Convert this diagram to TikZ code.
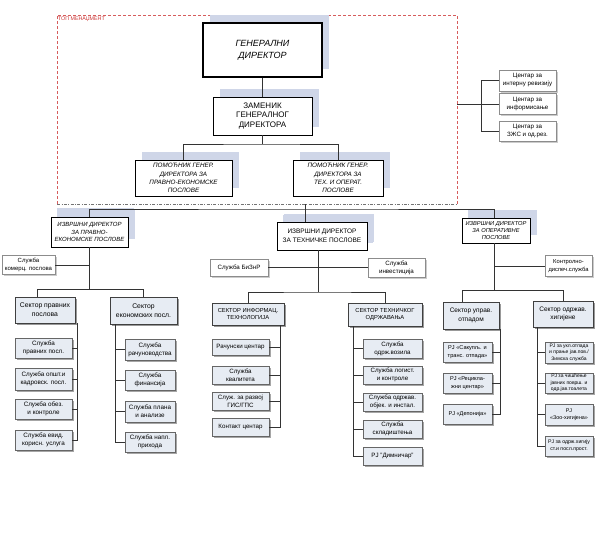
\documentclass[tikz,border=0pt]{standalone}
\usepackage{fontspec}
\setmainfont{Liberation Sans}
\usetikzlibrary{shadows}
\definecolor{shcol}{HTML}{CFD6E8}
\definecolor{boxfill}{HTML}{E7ECF3}
\definecolor{redd}{HTML}{CC3333}
\newcommand\fsz[2]{\fontsize{#1}{#2}\selectfont}
\begin{document}
\begin{tikzpicture}[x=1pt,y=-1pt,
  lnk/.style={draw=black!80, line width=0.6pt},
  wh/.style n args={2}{minimum width=#1, minimum height=#2},
  topbox/.style={draw=black, fill=white, line width=0.7pt, align=center, inner sep=0.5pt,
    general shadow={fill=shcol, shadow xshift=7pt, shadow yshift=8pt}},
  secbox/.style={draw=black!75, fill=boxfill, line width=0.6pt, align=center, inner sep=0.5pt,
    general shadow={fill=black!40, shadow xshift=1.5pt, shadow yshift=-1.5pt}},
  subbox/.style={draw=black!60, fill=boxfill, line width=0.5pt, align=center, inner sep=0.5pt,
    general shadow={fill=black!35, shadow xshift=1.5pt, shadow yshift=-1.5pt}},
  cbox/.style={draw=black!45, fill=white, line width=0.5pt, align=center, inner sep=0.5pt,
    general shadow={fill=black!20, shadow xshift=1.5pt, shadow yshift=-1.5pt}},
]
\fill[white] (0,0) rectangle (605,550);
\useasboundingbox (0,0) rectangle (605,550);

% top management frame
\draw[redd!80, dash pattern=on 3pt off 2pt, line width=0.6pt] (57,204) -- (57,15) -- (457,15) -- (457,204);
\draw[black!55, dash pattern=on 3pt off 1.5pt on 0.8pt off 1.5pt, line width=0.6pt] (57,204) -- (457,204);
\node[anchor=west, text=redd, inner sep=0, fill=white, font=\fsz{5.3}{6}] (topm) at (58,19) {ТОП МЕНАЏМЕНТ};

% top boxes
\node[topbox, line width=1.4pt, wh={119pt}{54pt}, font=\itshape\fsz{9}{12}] (gd) at (262.5,50) {ГЕНЕРАЛНИ\\ДИРЕКТОР};
\node[topbox, wh={99pt}{38pt}, font=\fsz{8}{9.5}] (zam) at (262.5,116) {ЗАМЕНИК\\ГЕНЕРАЛНОГ\\ДИРЕКТОРА};
\node[topbox, wh={97pt}{36pt}, font=\itshape\fsz{6.3}{8.2}] (pomL) at (183.5,178) {ПОМОЋНИК ГЕНЕР.\\ДИРЕКТОРА ЗА\\ПРАВНО-ЕКОНОМСКЕ\\ПОСЛОВЕ};
\node[topbox, wh={90pt}{36pt}, font=\itshape\fsz{6.3}{8.2}] (pomR) at (338,178) {ПОМОЋНИК ГЕНЕР.\\ДИРЕКТОРА ЗА\\ТЕХ. И ОПЕРАТ.\\ПОСЛОВЕ};
\coordinate (bar1) at (262.5,144);
\draw[lnk] (gd.south) -- (zam.north);
\draw[lnk] (zam.south) -- (bar1);
\draw[lnk] (pomL.north) |- (bar1) -| (pomR.north);

% centres on the right
\node[cbox, wh={57pt}{21pt}, font=\fsz{6.2}{8}] (c1) at (527.5,80.5) {Центар за\\интерну ревизију};
\node[cbox, wh={57pt}{21pt}, font=\fsz{6.2}{8}] (c2) at (527.5,104) {Центар за\\информисање};
\node[cbox, wh={57pt}{20pt}, font=\fsz{6.2}{8}] (c3) at (527.5,131) {Центар за\\ЗЖС и од.рез.};
\coordinate (cr) at (457,104);
\draw[lnk] (cr) -- (c2.west);
\draw[lnk] (c1.west) -- ++(-17,0) |- (c3.west);

% executive directors
\node[topbox, wh={77pt}{30pt}, font=\itshape\fsz{6}{7.8}, general shadow={fill=shcol, shadow xshift=6pt, shadow yshift=9pt}] (exL) at (89.5,232) {ИЗВРШНИ ДИРЕКТОР\\ЗА ПРАВНО-\\ЕКОНОМСКЕ ПОСЛОВЕ};
\node[topbox, wh={90pt}{28pt}, font=\fsz{6.5}{8.5}, general shadow={fill=shcol, shadow xshift=6pt, shadow yshift=7pt}] (exM) at (322,236) {ИЗВРШНИ ДИРЕКТОР\\ЗА ТЕХНИЧКЕ ПОСЛОВЕ};
\node[topbox, wh={68pt}{25pt}, font=\itshape\fsz{5.7}{7.4}, general shadow={fill=shcol, shadow xshift=6pt, shadow yshift=8pt}] (exR) at (496,230.5) {ИЗВРШНИ ДИРЕКТОР\\ЗА ОПЕРАТИВНЕ\\ПОСЛОВЕ};
\coordinate (tk) at (305,204);
\coordinate (tkb) at (305,209);
\coordinate (tkr) at (494,209);
\draw[lnk] (tk) -- (tk |- exM.north);
\draw[lnk] (exL.north) |- (tkb) -- (tkr);
\draw[lnk] (tkr) -- (tkr |- exR.north);

% ---------- left branch ----------
\node[cbox, wh={53pt}{19pt}, font=\fsz{6}{7.8}] (skom) at (28.5,265) {Служба\\комерц. послова};
\coordinate (lb) at (89.5,289);
\draw[lnk] (exL.south) -- (lb);
\draw[lnk] (skom.east) -- (skom.east -| lb);
\node[secbox, wh={60pt}{26pt}, font=\fsz{6.8}{8.8}] (secPr) at (45,310) {Сектор правних\\послова};
\node[secbox, wh={67pt}{27pt}, font=\fsz{6.8}{8.8}] (secEk) at (143.5,310.5) {Сектор\\економских посл.};
\coordinate (pl) at (37,289);
\draw[lnk] (pl) -- (pl |- secPr.north);
\draw[lnk] (pl) -| (secEk.north);

\node[subbox, wh={57pt}{20pt}, font=\fsz{6.3}{8}] (s1) at (43.5,348) {Служба\\правних посл.};
\node[subbox, wh={57pt}{22pt}, font=\fsz{6.3}{8}] (s2) at (43.5,379) {Служба општ.и\\кадровск. посл.};
\node[subbox, wh={57pt}{20pt}, font=\fsz{6.3}{8}] (s3) at (43.5,409) {Служба обез.\\и контроле};
\node[subbox, wh={57pt}{20pt}, font=\fsz{6.3}{8}] (s4) at (43.5,440) {Служба евид.\\корисн. услуга};
\coordinate (lv) at (77,323);
\draw[lnk] (lv) |- (s4.east);
\draw[lnk] (s1.east) -- (s1.east -| lv);
\draw[lnk] (s2.east) -- (s2.east -| lv);
\draw[lnk] (s3.east) -- (s3.east -| lv);

\node[subbox, wh={50pt}{21pt}, font=\fsz{6.3}{8}] (e1) at (150,349.5) {Служба\\рачуноводства};
\node[subbox, wh={50pt}{20pt}, font=\fsz{6.3}{8}] (e2) at (150,380) {Служба\\финансија};
\node[subbox, wh={50pt}{21pt}, font=\fsz{6.3}{8}] (e3) at (150,411.5) {Служба плана\\и анализе};
\node[subbox, wh={50pt}{20pt}, font=\fsz{6.3}{8}] (e4) at (150,442) {Служба напл.\\прихода};
\coordinate (rv) at (115,324);
\draw[lnk] (rv) |- (e4.west);
\draw[lnk] (e1.west) -- (e1.west -| rv);
\draw[lnk] (e2.west) -- (e2.west -| rv);
\draw[lnk] (e3.west) -- (e3.west -| rv);

% ---------- middle branch ----------
\node[cbox, wh={58pt}{17pt}, font=\fsz{6.2}{8}] (biz) at (239,267.5) {Служба БиЗнР};
\node[cbox, wh={57pt}{19pt}, font=\fsz{6.2}{8}] (inv) at (396.5,267.5) {Служба\\инвестиција};
\coordinate (mb) at (318,292);
\draw[lnk] (exM.south -| mb) -- (mb);
\draw[lnk] (biz.east) -- (inv.west);
\node[secbox, wh={72pt}{22pt}, font=\fsz{5.8}{7.8}] (secIT) at (248,314) {СЕКТОР ИНФОРМАЦ.\\ТЕХНОЛОГИЈА};
\node[secbox, wh={74pt}{23pt}, font=\fsz{5.8}{7.8}] (secTO) at (385,314.5) {СЕКТОР ТЕХНИЧКОГ\\ОДРЖАВАЊА};
\draw[lnk] (secIT.north) |- (mb) -| (secTO.north);

\node[subbox, wh={57pt}{16pt}, font=\fsz{6.2}{8}] (rc) at (240.5,347.5) {Рачунски центар};
\node[subbox, wh={57pt}{18pt}, font=\fsz{6.2}{8}] (kv) at (240.5,375) {Служба\\квалитета};
\node[subbox, wh={57pt}{18pt}, font=\fsz{6.2}{8}] (gis) at (240.5,401) {Служ. за развој\\ГИС/ГПС};
\node[subbox, wh={57pt}{18pt}, font=\fsz{6.2}{8}] (kc) at (240.5,427) {Контакт центар};
\coordinate (itv) at (280,325);
\draw[lnk] (itv) |- (kc.east);
\draw[lnk] (rc.east) -- (rc.east -| itv);
\draw[lnk] (kv.east) -- (kv.east -| itv);
\draw[lnk] (gis.east) -- (gis.east -| itv);

\node[subbox, wh={59pt}{19pt}, font=\fsz{6.2}{8}] (t1) at (392.5,348.5) {Служба\\одрж.возила};
\node[subbox, wh={59pt}{18pt}, font=\fsz{6.2}{8}] (t2) at (392.5,375) {Служба логист.\\и контроле};
\node[subbox, wh={59pt}{18pt}, font=\fsz{6.2}{8}] (t3) at (392.5,402) {Служба одржав.\\објек. и инстал.};
\node[subbox, wh={59pt}{18pt}, font=\fsz{6.2}{8}] (t4) at (392.5,429) {Служба\\складиштења};
\node[subbox, wh={59pt}{18pt}, font=\fsz{6.2}{8}] (t5) at (392.5,456) {РЈ "Димничар"};
\coordinate (tov) at (353,326);
\draw[lnk] (tov) |- (t5.west);
\draw[lnk] (t1.west) -- (t1.west -| tov);
\draw[lnk] (t2.west) -- (t2.west -| tov);
\draw[lnk] (t3.west) -- (t3.west -| tov);
\draw[lnk] (t4.west) -- (t4.west -| tov);

% ---------- right branch ----------
\node[cbox, wh={47pt}{21pt}, font=\fsz{5.8}{7.5}] (kds) at (568.5,266) {Контролно-\\диспеч.служба};
\coordinate (rb) at (494,290);
\draw[lnk] (exR.south -| rb) -- (rb);
\draw[lnk] (kds.west) -- (kds.west -| rb);
\node[secbox, wh={56pt}{27pt}, font=\fsz{6.5}{8.5}] (secUO) at (471,315.5) {Сектор управ.\\отпадом};
\node[secbox, wh={60pt}{26pt}, font=\fsz{6.5}{8.5}] (secOH) at (563,314) {Сектор одржав.\\хигијене};
\coordinate (ru) at (462,290);
\draw[lnk] (ru) -- (ru |- secUO.north);
\draw[lnk] (ru) -| (secOH.north);

\node[subbox, wh={49pt}{20pt}, font=\fsz{5.6}{7.5}] (u1) at (467.5,352) {РЈ «Сакупљ. и\\транс. отпада»};
\node[subbox, wh={49pt}{20pt}, font=\fsz{5.6}{7.5}] (u2) at (467.5,383) {РЈ «Рецикла-\\жни центар»};
\node[subbox, wh={49pt}{20pt}, font=\fsz{5.6}{7.5}] (u3) at (467.5,414) {РЈ «Депонија»};
\coordinate (uv) at (500,329);
\draw[lnk] (uv) |- (u3.east);
\draw[lnk] (u1.east) -- (u1.east -| uv);
\draw[lnk] (u2.east) -- (u2.east -| uv);

\node[subbox, wh={48pt}{21pt}, font=\fsz{5}{6.4}] (h1) at (569,352.5) {РЈ за укл.отпада\\и прање јав.пов./\\Зимска служба};
\node[subbox, wh={48pt}{20pt}, font=\fsz{5}{6.4}] (h2) at (569,383) {РЈ за чишћење\\јавних површ. и\\одр.јав.тоалета};
\node[subbox, wh={48pt}{21pt}, font=\fsz{5.4}{7.2}] (h3) at (569,414.5) {РЈ\\«Зоо-хигијена»};
\node[subbox, wh={48pt}{20pt}, font=\fsz{5.2}{7}] (h4) at (569,446) {РЈ за одрж.хигију\\ст.и посл.прост.};
\coordinate (hv) at (537,327);
\draw[lnk] (hv) |- (h4.west);
\draw[lnk] (h1.west) -- (h1.west -| hv);
\draw[lnk] (h2.west) -- (h2.west -| hv);
\draw[lnk] (h3.west) -- (h3.west -| hv);
\end{tikzpicture}
\end{document}
